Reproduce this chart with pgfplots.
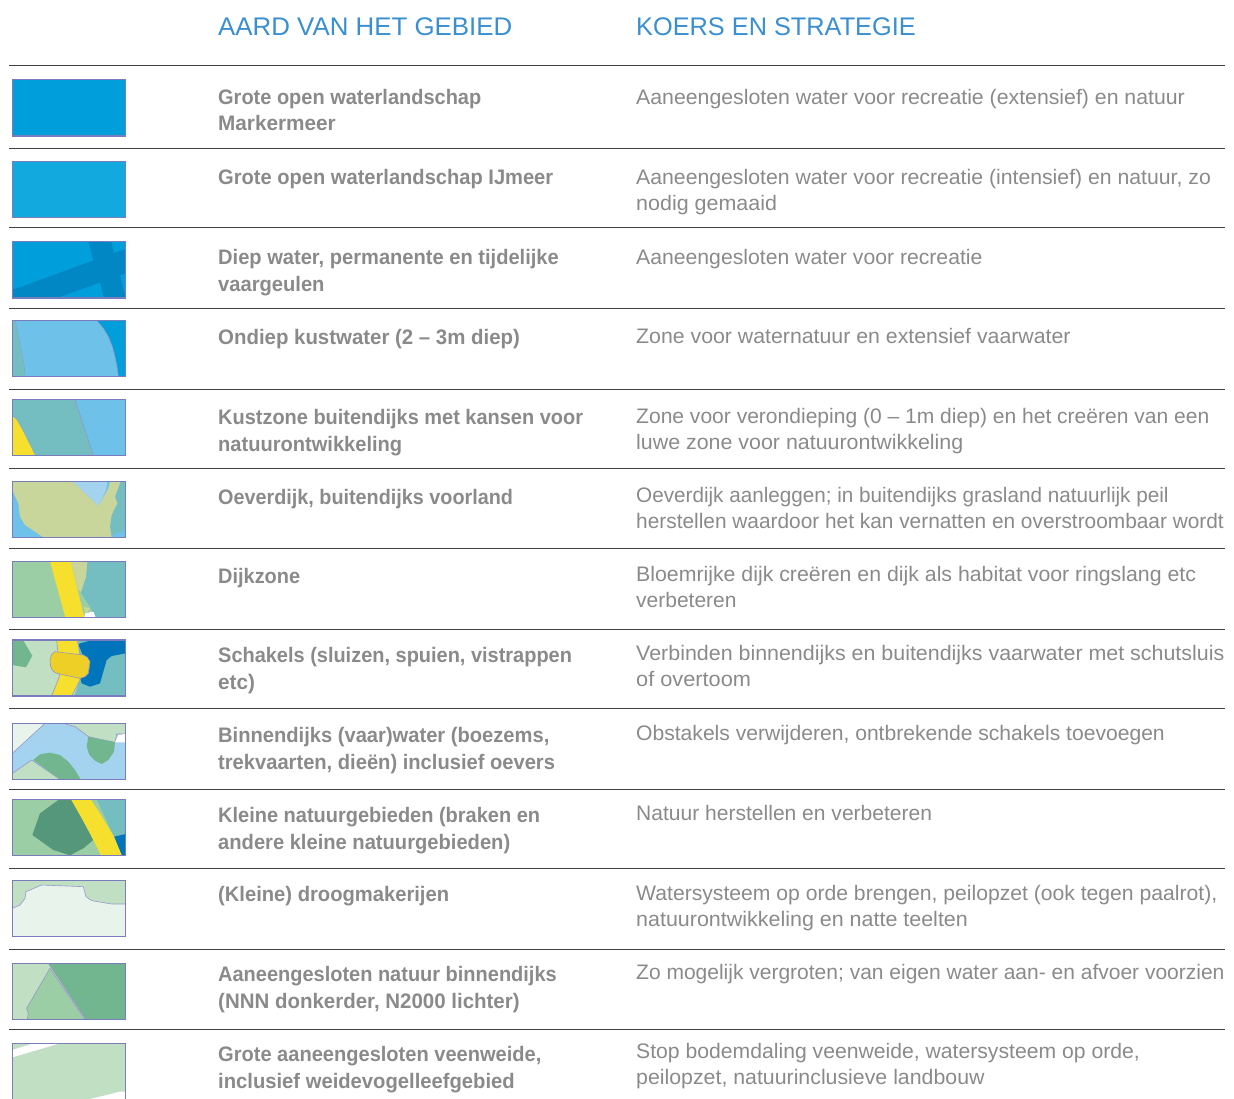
\documentclass[border=0pt]{standalone}
\usepackage{pgfplots}
\pgfplotsset{compat=1.18}
\usepackage{fontspec}
\setmainfont{Liberation Sans}[BoldFeatures={FakeStretch=0.94}]
\definecolor{blueA}{HTML}{009EDA}
\definecolor{blueB}{HTML}{12A9DF}
\definecolor{blueC}{HTML}{0087C4}
\definecolor{blueD}{HTML}{0075BC}
\definecolor{lightA}{HTML}{6EC1E9}
\definecolor{lightB}{HTML}{A3D3EE}
\definecolor{teal2}{HTML}{74BDC0}
\definecolor{yell}{HTML}{F7DF2E}
\definecolor{gold}{HTML}{EDCF25}
\definecolor{khaki}{HTML}{C9D69B}
\definecolor{greenA}{HTML}{9BCEA4}
\definecolor{greenB}{HTML}{C1DFC3}
\definecolor{greenC}{HTML}{72B68F}
\definecolor{greenD}{HTML}{55977A}
\definecolor{pale}{HTML}{E8F3EC}
\definecolor{edge}{HTML}{7A7DBB}
\definecolor{txt}{HTML}{8A8A8A}
\definecolor{ttl}{HTML}{3A8FD0}
\pgfplotsset{zs/.style={x filter/.expression={x/3},y filter/.expression={#1+y/3}}}
\newcommand\sw[3]{\addplot[zs=#1,fill=#2,draw=none,forget plot] coordinates {#3} --cycle;}
\newcommand\swe[3]{\addplot[zs=#1,fill=#2,draw=edge!80!white,line width=0.6pt,forget plot] coordinates {#3} --cycle;}
\newcommand\frm[2]{\addplot[zs=#1,draw=edge,line width=1.2pt,forget plot] coordinates {#2} --cycle;}
\newcommand\rl[1]{\addplot[black!75,line width=1pt,forget plot] coordinates {(9,#1) (1225,#1)};}
\newcommand\LT[3][1]{\node[anchor=base west,inner sep=0pt,text=txt,font=\fontsize{21}{26}\selectfont\bfseries] at (axis cs:218,#2) {\scalebox{#1}[1]{#3}};}
\newcommand\RT[3][1]{\node[anchor=base west,inner sep=0pt,text=txt,font=\fontsize{21}{26}\selectfont] at (axis cs:636,#2) {\scalebox{#1}[1]{#3}};}
\begin{document}
\begin{tikzpicture}
\useasboundingbox (0,0) rectangle (1234pt,1099pt);
\begin{axis}[scale only axis,anchor=south west,at={(0pt,0pt)},width=1234pt,height=1099pt,xmin=0,xmax=1234,ymin=0,ymax=1099,y dir=reverse,axis lines=none,no markers,clip=true]
\rl{66}\rl{149}\rl{228}\rl{309}\rl{389}\rl{468}\rl{548}\rl{629}\rl{708}\rl{789}\rl{868}\rl{949}\rl{1029}
% 1
\sw{60}{blueA}{(37,58)(377,58)(377,228)(37,228)}
\frm{60}{(37,58)(377,58)(377,228)(37,228)}
% 2
\sw{60}{blueB}{(37,304)(377,304)(377,473)(37,473)}
\frm{60}{(37,304)(377,304)(377,473)(37,473)}
% 3
\sw{60}{blueA}{(37,544)(377,544)(377,714)(37,714)}
\sw{60}{blueC}{(37,690)(290,598)(345,578)(377,568)(377,640)(170,714)(37,714)}
\sw{60}{blueC}{(265,544)(333,544)(377,712)(377,714)(312,714)(298,660)(280,600)}
\frm{60}{(37,544)(377,544)(377,714)(37,714)}
% 4
\sw{60}{blueA}{(37,781)(377,781)(377,949)(37,949)}
\swe{60}{lightA}{(45,781)(290,781)(310,805)(325,830)(337,860)(345,890)(351,920)(355,949)(75,949)(72,915)(65,880)(55,830)}
\sw{60}{teal2}{(37,781)(45,781)(55,830)(65,880)(72,915)(75,949)(37,949)}
\frm{60}{(37,781)(377,781)(377,949)(37,949)}
% 5
\sw{390}{lightA}{(37,28)(377,28)(377,196)(37,196)}
\swe{390}{teal2}{(37,28)(225,28)(280,196)(105,196)(70,125)(50,90)(37,78)}
\sw{390}{yell}{(37,78)(50,90)(70,125)(105,196)(37,196)}
\frm{390}{(37,28)(377,28)(377,196)(37,196)}
% 6
\sw{390}{lightA}{(37,274)(377,274)(377,442)(37,442)}
\sw{390}{lightB}{(218,274)(322,274)(318,300)(295,348)}
\sw{390}{teal2}{(362,274)(377,274)(377,442)(335,442)(330,410)(335,375)(352,340)(345,320)}
\sw{390}{lightA}{(335,435)(377,420)(377,442)(338,442)}
\sw{390}{khaki}{(37,274)(218,274)(295,348)(325,295)(330,274)(362,274)(345,320)(352,340)(335,375)(330,410)(335,442)(130,442)(75,405)(60,380)(55,340)(37,300)}
\frm{390}{(37,274)(377,274)(377,442)(37,442)}
% 7
\sw{390}{greenA}{(37,514)(377,514)(377,682)(37,682)}
\sw{390}{teal2}{(262,514)(377,514)(377,682)(285,682)(270,650)(243,610)(258,560)}
\sw{390}{khaki}{(212,514)(262,514)(258,560)(243,605)(235,600)}
\sw{390}{khaki}{(250,650)(270,655)(258,672)}
\sw{390}{white}{(255,670)(280,665)(287,682)(253,682)}
\sw{390}{yell}{(150,514)(212,514)(253,682)(196,682)}
\frm{390}{(37,514)(377,514)(377,682)(37,682)}
% 8
\sw{390}{greenB}{(37,750)(377,750)(377,918)(37,918)}
\sw{390}{greenC}{(37,752)(70,752)(97,797)(78,832)(37,825)}
\sw{390}{teal2}{(235,750)(377,750)(377,918)(222,918)(240,870)}
\sw{390}{blueD}{(235,762)(270,752)(377,750)(377,790)(335,798)(320,810)(300,880)(270,890)(245,880)(240,860)(262,830)}
\swe{390}{yell}{(170,750)(232,750)(240,795)(240,870)(215,918)(155,918)(178,860)(175,800)}
\swe{390}{gold}{(165,785)(250,795)(262,802)(270,815)(265,850)(255,860)(240,865)(170,850)(158,842)(152,830)(150,810)(155,793)}
\frm{390}{(37,750)(377,750)(377,918)(37,918)}
% 9
\sw{710}{lightB}{(37,40)(377,40)(377,208)(37,208)}
\swe{710}{pale}{(37,40)(135,40)(37,130)}
\swe{710}{greenB}{(190,40)(377,40)(377,72)(350,72)(345,97)(265,80)(250,68)(225,50)}
\sw{710}{greenC}{(265,80)(300,88)(345,97)(342,125)(325,150)(305,162)(285,152)(268,135)(260,110)}
\sw{710}{white}{(355,75)(377,72)(377,97)(345,97)}
\swe{710}{greenB}{(37,190)(95,150)(180,208)(37,208)}
\sw{710}{greenC}{(100,150)(120,133)(150,128)(180,135)(205,155)(225,180)(242,208)(180,208)}
\frm{710}{(37,40)(377,40)(377,208)(37,208)}
% 10
\sw{710}{greenA}{(37,268)(377,268)(377,436)(37,436)}
\sw{710}{teal2}{(290,268)(377,268)(377,375)(342,380)}
\sw{710}{blueD}{(342,380)(377,372)(377,436)(365,436)}
\sw{710}{greenD}{(178,268)(213,268)(240,315)(280,390)(250,415)(210,436)(160,420)(97,375)(120,310)}
\sw{710}{yell}{(213,268)(272,268)(300,310)(342,380)(365,436)(303,436)(270,370)(240,315)}
\frm{710}{(37,268)(377,268)(377,436)(37,436)}
% 11
\sw{710}{greenB}{(37,512)(377,512)(377,680)(37,680)}
\swe{710}{pale}{(37,595)(60,585)(75,565)(78,545)(125,525)(250,530)(258,560)(275,572)(335,582)(377,582)(377,680)(37,680)}
\frm{710}{(37,512)(377,512)(377,680)(37,680)}
% 12
\sw{710}{greenB}{(37,760)(377,760)(377,928)(37,928)}
\swe{710}{greenC}{(145,760)(377,760)(377,928)(258,928)}
\swe{710}{greenA}{(150,775)(255,928)(82,928)(85,910)(80,895)}
\frm{710}{(37,760)(377,760)(377,928)(37,928)}
% 13
\sw{710}{greenB}{(37,1000)(377,1000)(377,1167)(37,1167)}
\sw{710}{white}{(37,1020)(100,1000)(180,1000)(37,1042)}
\sw{710}{white}{(270,1167)(320,1155)(360,1145)(377,1145)(377,1167)}
\addplot[zs=710,draw=edge,line width=1.2pt,forget plot] coordinates {(37,1167)(37,1000)(377,1000)(377,1167)};
% text
\node[anchor=base west,inner sep=0pt,text=ttl,font=\fontsize{25.5}{30}\selectfont] at (axis cs:218,36) {\scalebox{1.014}[1]{AARD VAN HET GEBIED}};
\node[anchor=base west,inner sep=0pt,text=ttl,font=\fontsize{25.5}{30}\selectfont] at (axis cs:636,36) {\scalebox{0.993}[1]{KOERS EN STRATEGIE}};
\LT[1.012]{105}{Grote open waterlandschap}\LT[1.05]{131}{Markermeer}
\RT[1.013]{105}{Aaneengesloten water voor recreatie (extensief) en natuur}
\LT[1.018]{185}{Grote open waterlandschap IJmeer}
\RT[1.011]{185}{Aaneengesloten water voor recreatie (intensief) en natuur, zo}\RT[1.022]{211}{nodig gemaaid}
\LT[1.018]{265}{Diep water, permanente en tijdelijke}\LT[1.02]{291}{vaargeulen}
\RT[1.009]{265}{Aaneengesloten water voor recreatie}
\LT[1.034]{344}{Ondiep kustwater (2 – 3m diep)}
\RT[1.014]{343}{Zone voor waternatuur en extensief vaarwater}
\LT[1.011]{424}{Kustzone buitendijks met kansen voor}\LT[1.017]{451}{natuurontwikkeling}
\RT[1.002]{423}{Zone voor verondieping (0 – 1m diep) en het creëren van een}\RT[1.019]{449}{luwe zone voor natuurontwikkeling}
\LT[1.003]{504}{Oeverdijk, buitendijks voorland}
\RT[0.985]{502}{Oeverdijk aanleggen; in buitendijks grasland natuurlijk peil}\RT[0.993]{528}{herstellen waardoor het kan vernatten en overstroombaar wordt}
\LT[1.01]{583}{Dijkzone}
\RT[1.014]{581}{Bloemrijke dijk creëren en dijk als habitat voor ringslang etc}\RT{607}{verbeteren}
\LT[1.011]{662}{Schakels (sluizen, spuien, vistrappen}\LT[1.05]{689}{etc)}
\RT[1.02]{660}{Verbinden binnendijks en buitendijks vaarwater met schutsluis}\RT[1.036]{686}{of overtoom}
\LT[1.02]{742}{Binnendijks (vaar)water (boezems,}\LT[1.02]{769}{trekvaarten, dieën) inclusief oevers}
\RT[1.004]{740}{Obstakels verwijderen, ontbrekende schakels toevoegen}
\LT[1.012]{822}{Kleine natuurgebieden (braken en}\LT[1.02]{849}{andere kleine natuurgebieden)}
\RT[1.002]{820}{Natuur herstellen en verbeteren}
\LT[1.022]{901}{(Kleine) droogmakerijen}
\RT[1.007]{900}{Watersysteem op orde brengen, peilopzet (ook tegen paalrot),}\RT[1.022]{926}{natuurontwikkeling en natte teelten}
\LT[1.012]{981}{Aaneengesloten natuur binnendijks}\LT[1.037]{1008}{(NNN donkerder, N2000 lichter)}
\RT{979}{Zo mogelijk vergroten; van eigen water aan- en afvoer voorzien}
\LT[1.016]{1061}{Grote aaneengesloten veenweide,}\LT[1.024]{1088}{inclusief weidevogelleefgebied}
\RT[1.008]{1058}{Stop bodemdaling veenweide, watersysteem op orde,}\RT[1.015]{1084}{peilopzet, natuurinclusieve landbouw}
\end{axis}
\end{tikzpicture}
\end{document}
